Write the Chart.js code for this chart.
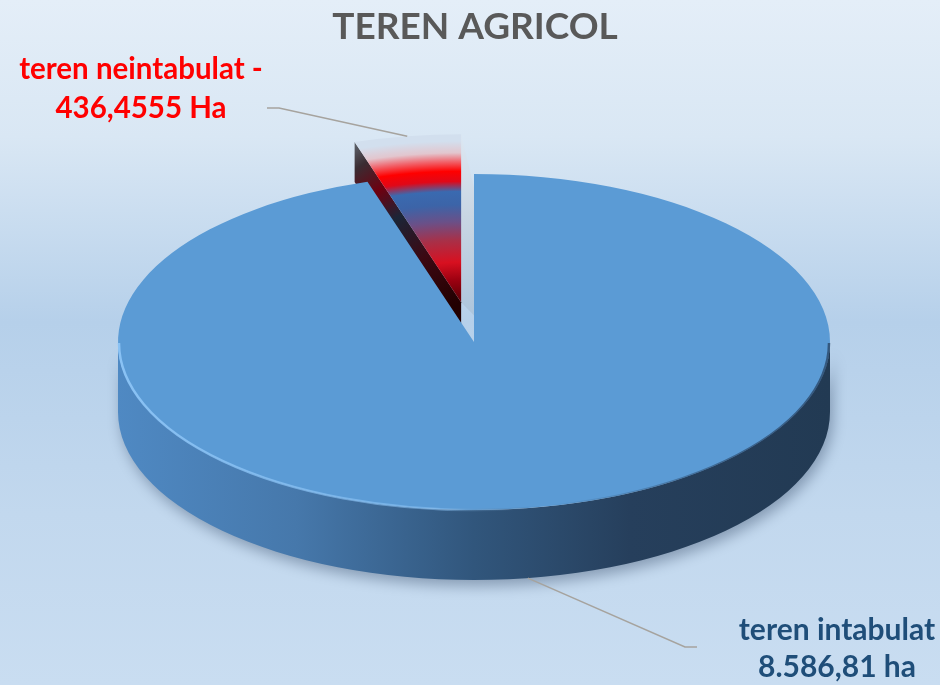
<!DOCTYPE html>
<html><head><meta charset="utf-8">
<script src="https://cdn.jsdelivr.net/npm/chart.js@4.4.0/dist/chart.umd.min.js"></script>
<style>html,body{margin:0;padding:0;overflow:hidden;background:#d0e1f2}#wrap{width:940px;height:685px}</style>
</head><body><div id="wrap"><canvas id="c" width="940" height="685"></canvas></div>
<script>
// ---- data ----
const categories = ['teren intabulat', 'teren neintabulat'];
const values = [8586.81, 436.4555];
const valueLabels = ['8.586,81 ha', '436,4555 Ha'];
const labelSeparators = ['', ' -'];
const chartTitle = 'TEREN AGRICOL';

// ---- layout / style ----
const CX = 474, CY = 342, RX = 356, RY = 168, DEPTH = 70, BACK_DEPTH = 40, EXPLODE = 85;
const K = RY / RX;
const EXPLODE_INDEX = 1;
const FONT = 'Lato, "Open Sans", sans-serif';
const LABELS = [
  { x: 837, y: 640, lh: 37, elbow: [685, 647], end: [697, 647], color: '#1f4e79', size: 30 },
  { x: 141, y: 79, lh: 39, elbow: [279, 108], end: [267, 108], color: '#ff0000', size: 29.5 }
];

function pt(el, a, r) { return { x: el.x + r * Math.cos(a), y: (el.y + r * Math.sin(a)) * K }; }

const pie3d = {
  id: 'pie3d',
  beforeDraw(chart) {
    const ctx = chart.ctx;
    const g = ctx.createLinearGradient(0, 0, 0, chart.height);
    g.addColorStop(0, '#e4eef8');
    g.addColorStop(0.2, '#d9e7f4');
    g.addColorStop(0.47, '#b6d0ea');
    g.addColorStop(0.75, '#c2d8ee');
    g.addColorStop(1, '#c9ddf1');
    ctx.save();
    ctx.fillStyle = g;
    ctx.fillRect(0, 0, chart.width, chart.height);
    ctx.restore();
  },
  beforeDatasetsDraw(chart) {
    const ctx = chart.ctx, meta = chart.getDatasetMeta(0);
    meta.data.forEach((el, i) => {
      el.x = CX; el.y = CY / K; el.outerRadius = RX; el.innerRadius = 0;
      if (i === EXPLODE_INDEX) {
        const mid = (el.startAngle + el.endAngle) / 2;
        el.x += EXPLODE * Math.cos(mid); el.y += EXPLODE * Math.sin(mid);
      }
    });
    const red = meta.data[EXPLODE_INDEX];
    const apex = { x: red.x, y: red.y * K };

    // light right cut face of exploded slice
    const O = pt(red, red.endAngle, RX);
    const v = { x: CX - apex.x, y: BACK_DEPTH * 0.33 };
    ctx.save();
    let g = ctx.createLinearGradient(0, O.y, 0, apex.y + v.y);
    g.addColorStop(0, '#dce7f2'); g.addColorStop(0.45, '#c9d6e3'); g.addColorStop(1, '#adc5dc');
    ctx.fillStyle = g;
    ctx.beginPath();
    ctx.moveTo(O.x, O.y); ctx.lineTo(apex.x, apex.y);
    ctx.lineTo(apex.x + v.x, apex.y + v.y); ctx.lineTo(O.x + v.x, O.y + v.y + 40);
    ctx.closePath(); ctx.fill();

    // dark left cut face of exploded slice
    const L = pt(red, red.startAngle, RX);
    g = ctx.createLinearGradient(L.x, L.y, apex.x, apex.y);
    g.addColorStop(0, '#5f666e'); g.addColorStop(0.12, '#3a2c32'); g.addColorStop(0.28, '#6e0010');
    g.addColorStop(0.45, '#1b2537'); g.addColorStop(0.7, '#3c0812'); g.addColorStop(1, '#220000');
    ctx.fillStyle = g;
    ctx.beginPath();
    ctx.moveTo(L.x, L.y); ctx.lineTo(apex.x, apex.y);
    ctx.lineTo(apex.x, apex.y + BACK_DEPTH); ctx.lineTo(L.x, L.y + BACK_DEPTH);
    ctx.closePath(); ctx.fill();
    ctx.restore();

    // front side bands
    meta.data.forEach((el, i) => {
      [-2 * Math.PI, 0, 2 * Math.PI].forEach(sh => {
        const a0 = Math.max(el.startAngle, sh), a1 = Math.min(el.endAngle, sh + Math.PI);
        if (a1 <= a0) return;
        ctx.save();
        const sg = ctx.createLinearGradient(el.x - RX, 0, el.x + RX, 0);
        sg.addColorStop(0, '#4f89c3'); sg.addColorStop(0.25, '#4678ab');
        sg.addColorStop(0.5, '#31567c'); sg.addColorStop(0.72, '#263f5c'); sg.addColorStop(1, '#223a53');
        ctx.fillStyle = sg;
        ctx.shadowColor = 'rgba(20,40,70,0.35)'; ctx.shadowBlur = 14; ctx.shadowOffsetX = 3; ctx.shadowOffsetY = 6;
        ctx.beginPath();
        ctx.ellipse(el.x, el.y * K, RX, RY, 0, a0, a1, false);
        ctx.ellipse(el.x, el.y * K + DEPTH, RX, RY, 0, a1, a0, true);
        ctx.closePath(); ctx.fill();
        ctx.restore();
      });
    });

    // top faces drawn by Chart.js in squashed space
    const rg = ctx.createRadialGradient(red.x, red.y, 0, red.x, red.y, RX);
    [[0, '#6a0008'], [0.04, '#6a0008'], [0.13, '#9a0010'], [0.24, '#d81020'], [0.37, '#a83048'],
     [0.48, '#6a5088'], [0.58, '#3c64a8'], [0.66, '#3a6ab0'], [0.72, '#e00818'], [0.78, '#ff0000'],
     [0.84, '#f06870'], [0.89, '#e2c6ce'], [0.96, '#d2dfee'], [1, '#d2dfee']].forEach(s => rg.addColorStop(s[0], s[1]));
    red.options = Object.assign({}, red.options, { backgroundColor: rg });
    ctx.save();
    ctx.scale(1, K);
  },
  afterDatasetsDraw(chart) {
    const ctx = chart.ctx, meta = chart.getDatasetMeta(0);
    ctx.restore();
    // rim highlight on front edge
    const blue = meta.data[0];
    ctx.save();
    const hg = ctx.createLinearGradient(blue.x - RX, 0, blue.x + RX, 0);
    hg.addColorStop(0, 'rgba(140,196,246,0.95)'); hg.addColorStop(0.45, 'rgba(140,196,246,0.5)');
    hg.addColorStop(0.6, 'rgba(40,70,100,0.0)'); hg.addColorStop(0.85, 'rgba(35,60,90,0.55)');
    hg.addColorStop(1, 'rgba(35,60,90,0.7)');
    ctx.strokeStyle = hg; ctx.lineWidth = 2.5;
    ctx.beginPath();
    ctx.ellipse(blue.x, blue.y * K + 1, RX - 1, RY - 1, 0, 0, Math.PI, false);
    ctx.stroke();
    ctx.restore();

    // leader lines + labels
    meta.data.forEach((el, i) => {
      const lay = LABELS[i];
      const mid = (el.startAngle + el.endAngle) / 2;
      const s = pt(el, mid, RX);
      if (Math.sin(mid) > 0) s.y += DEPTH;
      ctx.save();
      ctx.strokeStyle = '#a6a39e'; ctx.lineWidth = 1.5;
      ctx.beginPath();
      ctx.moveTo(s.x, s.y); ctx.lineTo(lay.elbow[0], lay.elbow[1]); ctx.lineTo(lay.end[0], lay.end[1]);
      ctx.stroke();
      ctx.fillStyle = lay.color;
      ctx.font = 'bold ' + lay.size + 'px ' + FONT;
      ctx.textAlign = 'center'; ctx.textBaseline = 'alphabetic';
      ctx.fillText(categories[i] + labelSeparators[i], lay.x, lay.y);
      ctx.fillText(valueLabels[i], lay.x, lay.y + lay.lh);
      ctx.restore();
    });
  }
};

new Chart(document.getElementById('c'), {
  type: 'pie',
  data: {
    labels: categories,
    datasets: [{ data: values, backgroundColor: ['#5b9bd5', '#ff0000'], borderWidth: 0, clip: false }]
  },
  options: {
    responsive: false, animation: false, events: [],
    layout: { padding: { left: 10 } },
    plugins: {
      legend: { display: false }, tooltip: { enabled: false },
      title: { display: true, text: chartTitle, color: '#595959',
        font: { family: FONT, size: 37, weight: 'bold' }, padding: { top: 5, bottom: 4 } }
    }
  },
  plugins: [pie3d]
});
</script></body></html>
